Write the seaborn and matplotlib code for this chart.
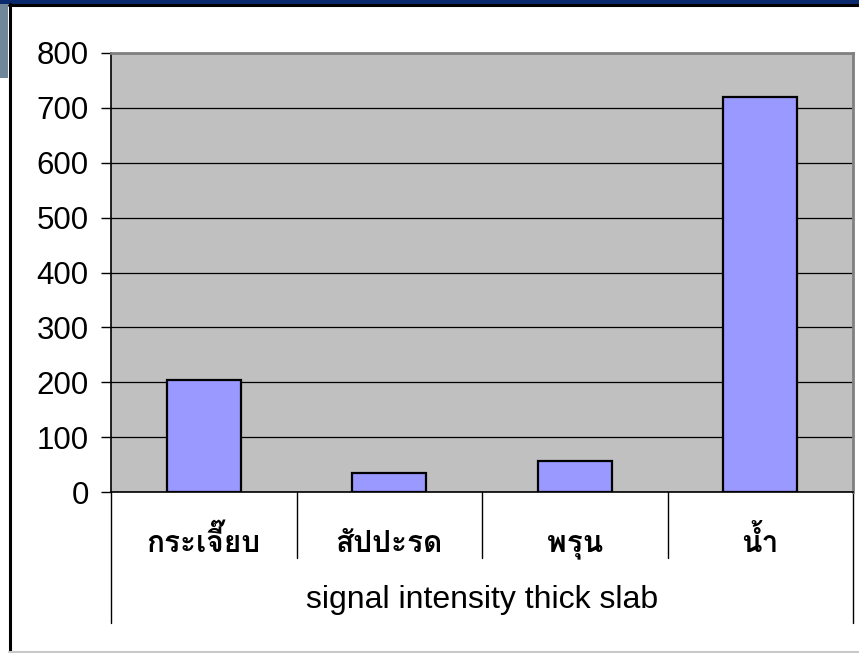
import matplotlib
matplotlib.use("Agg")
import pandas as pd
import seaborn as sns
import matplotlib.pyplot as plt
from matplotlib.patches import Rectangle
import matplotlib.transforms as mtransforms

# data
categories = ["กระเจี๊ยบ", "สัปปะรด", "พรุน", "น้ำ"]
values = [204, 35, 56, 720]
group_label = "signal intensity thick slab"
yticks = [0, 100, 200, 300, 400, 500, 600, 700, 800]

sns.set_style("white")
plt.rcParams["font.family"] = ["Liberation Sans", "Loma", "DejaVu Sans"]
plt.rcParams["text.color"] = "black"
plt.rcParams["xtick.color"] = "black"
plt.rcParams["ytick.color"] = "black"
plt.rcParams["axes.labelcolor"] = "black"

df = pd.DataFrame({"category": categories, "value": values})

fig = plt.figure(figsize=(8.59, 6.53), dpi=100)
fig.patch.set_facecolor("white")

# slide frame around the chart object
fig.patches.append(Rectangle((0, 1 - 4 / 653), 1, 4 / 653, transform=fig.transFigure,
                             facecolor="#0b2a6e", edgecolor="none", zorder=0))
fig.patches.append(Rectangle((0, 1 - 78 / 653), 8 / 859, 74 / 653, transform=fig.transFigure,
                             facecolor="#6f8799", edgecolor="none", zorder=0))
fig.lines.append(plt.Line2D([9.5 / 859, 9.5 / 859], [0.5 / 653, 1 - 4 / 653], transform=fig.transFigure,
                            color="black", lw=2.2))
fig.lines.append(plt.Line2D([9 / 859, 1], [1 - 4.5 / 653, 1 - 4.5 / 653], transform=fig.transFigure,
                            color="black", lw=2.2))
fig.lines.append(plt.Line2D([9 / 859, 1], [1 / 653, 1 / 653], transform=fig.transFigure,
                            color="#c8c8c8", lw=1.5))

ax = fig.add_axes([111 / 859, 1 - 492 / 653, 742 / 859, 439 / 653])
ax.set_facecolor("#c0c0c0")

sns.barplot(data=df, x="category", y="value", color="#9999ff", width=0.4,
            edgecolor="black", linewidth=1.6, saturation=1, ax=ax, zorder=3)

ax.set_ylim(0, 800)
ax.set_xlim(-0.5, len(categories) - 0.5)
ax.set_yticks(yticks)
ax.set_yticklabels([str(t) for t in yticks], fontsize=22.5)
ax.yaxis.grid(True, color="black", lw=0.9)
ax.set_axisbelow(True)
ax.tick_params(axis="y", direction="out", length=7, width=1, color="black", pad=9, left=True)
ax.set_ylabel("")

ax.set_xticks(range(len(categories)))
ax.set_xticklabels(categories, fontsize=21.5, fontweight="bold", va="baseline")
ax.tick_params(axis="x", length=0, pad=43)
ax.set_xlabel(group_label, fontsize=23)
ax.xaxis.set_label_coords(0.5, -108 / 439)
ax.xaxis.label.set_va("center")

for side in ["top", "right"]:
    ax.spines[side].set_color("#808080")
    ax.spines[side].set_linewidth(2)
for side in ["left", "bottom"]:
    ax.spines[side].set_color("black")
    ax.spines[side].set_linewidth(1.2)

# category separators below the axis
trans = mtransforms.blended_transform_factory(ax.transData, ax.transAxes)
edges = [i - 0.5 for i in range(len(categories) + 1)]
for i, e in enumerate(edges):
    depth = 131 / 439 if i in (0, len(edges) - 1) else 66 / 439
    ax.plot([e, e], [0, -depth], transform=trans, color="black", lw=1, clip_on=False)

fig.savefig("out.png", dpi=100)
